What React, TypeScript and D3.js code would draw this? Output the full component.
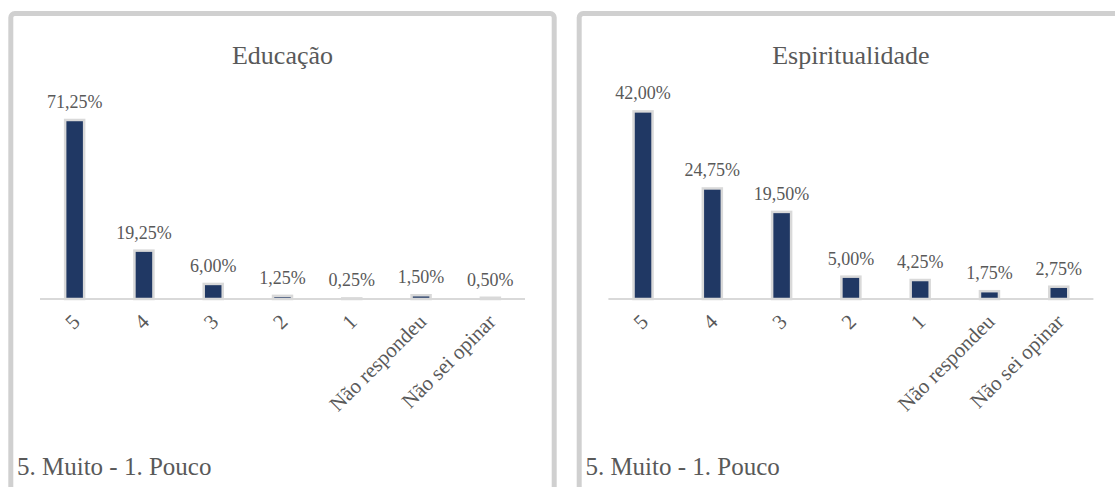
import React from "react";
import * as d3 from "d3";

const categories = ["5", "4", "3", "2", "1", "Não respondeu", "Não sei opinar"];
const educacaoValues = [71.25, 19.25, 6.0, 1.25, 0.25, 1.5, 0.5];
const espiritualidadeValues = [42.0, 24.75, 19.5, 5.0, 4.25, 1.75, 2.75];
const educacaoMax = 80;
const espiritualidadeMax = 45;
const footnote = "5. Muito - 1. Pouco";

const FONT = "'Liberation Serif', 'Times New Roman', serif";
const TEXT = "#595959";
const BAR = "#203864";
const BAR_STROKE = "#d9d9d9";
const BORDER = "#d0d0d0";

const fmt = (v: number) => v.toFixed(2).replace(".", ",") + "%";

function Panel({ x0, title, values, yMax }: { x0: number; title: string; values: number[]; yMax: number }) {
  const panelW = 548.4;
  const axisL = x0 + 31.7;
  const axisR = axisL + 485;
  const xs = d3.scaleBand<string>().domain(categories).range([axisL, axisR]).paddingInner(0).paddingOuter(0);
  const ys = d3.scaleLinear().domain([0, yMax]).range([299, 98]);
  const barW = 19;
  return (
    <g>
      <rect x={x0 + 2.5} y={13.5} width={panelW - 5} height={520} rx={4} fill="#fff" stroke={BORDER} strokeWidth={5} />
      <text x={x0 + panelW / 2} y={64} textAnchor="middle" fontSize={26} fill={TEXT} fontFamily={FONT}>{title}</text>
      {categories.map((c, i) => {
        const cx = xs(c)! + xs.bandwidth() / 2;
        const y = ys(values[i]);
        return (
          <g key={c}>
            <rect x={cx - barW / 2} y={y} width={barW} height={ys(0) - y} fill={BAR} stroke={BAR_STROKE} strokeWidth={2.5} />
            <text x={cx} y={y - 12} textAnchor="middle" fontSize={18} fill={TEXT} fontFamily={FONT}>{fmt(values[i])}</text>
          </g>
        );
      })}
      <line x1={axisL} x2={axisR} y1={299} y2={299} stroke={BAR_STROKE} strokeWidth={2} />
      {categories.map((c) => {
        const cx = xs(c)! + xs.bandwidth() / 2;
        return (
          <text key={"l" + c} transform={`translate(${cx + 6.5},${323}) rotate(-45)`} textAnchor="end" fontSize={21} fill={TEXT} fontFamily={FONT}>{c}</text>
        );
      })}
      <text x={x0 + 8.7} y={475} fontSize={25} fill={TEXT} fontFamily={FONT}>{footnote}</text>
    </g>
  );
}

export default function App() {
  return (
    <svg width={1115} height={487} style={{ position: "absolute", left: 0, top: 0 }}>
      <rect width={1115} height={487} fill="#fff" />
      <Panel x0={8.3} title="Educação" values={educacaoValues} yMax={educacaoMax} />
      <Panel x0={576.7} title="Espiritualidade" values={espiritualidadeValues} yMax={espiritualidadeMax} />
    </svg>
  );
}
